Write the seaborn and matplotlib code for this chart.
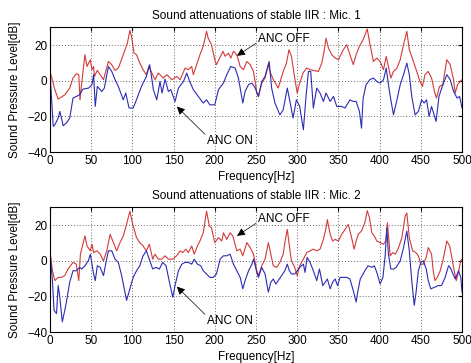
import numpy as np
import pandas as pd
import seaborn as sns
import matplotlib
matplotlib.use("Agg")
import matplotlib.pyplot as plt

# Mic. 1 - ANC OFF (red)
f1_off = [0, 6, 10, 18, 24, 28, 32, 35, 36.5, 38,
          42.5, 45, 49, 51, 53, 54, 57.5, 61, 65, 71,
          75, 79, 83, 89, 94, 97, 99, 102, 105, 109,
          113, 117, 120, 127.5, 131.5, 137.6, 141.7, 147.8, 153.8, 158,
          164, 168, 172, 174, 178, 182, 186, 190, 192, 196,
          200, 202, 206, 210, 212.5, 216.6, 219.4, 222.7, 226.7, 230.8,
          234.8, 238.9, 243, 247, 251, 253, 257, 261, 265, 267,
          271, 277, 283, 287, 290, 293, 297, 300, 303, 307,
          311.5, 315.6, 319.6, 325.7, 329.8, 332.6, 335, 337.9, 342, 346,
          350, 356, 360, 364, 368, 371.5, 375.5, 380, 383, 385,
          388, 392.5, 396.6, 400.6, 404.7, 408, 410.7, 413.6, 416.8, 421,
          425, 429, 433, 436, 441, 445, 449, 452, 455, 459,
          463, 467, 469, 472.6, 476.7, 481.5, 485.6, 489.7, 491.7, 494.5,
          497.8, 500]
db1_off = [5.6, -5.0, -10.3, -7.9, -4.1, 1.5, 3.9, 3.4, -10.7, -3.6,
           14.6, 8.0, 11.8, 6.2, 8.0, 2.4, 5.8, 3.4, 0.6, 10.8,
           9.0, 5.8, 7.1, 14.6, 21.1, 28.2, 24.9, 15.5, 14.6, 9.9,
           6.2, 3.4, 8.0, 0.6, 4.3, 1.5, 3.4, 0.6, 2.4, 0.6,
           7.1, 6.2, 8.0, 3.4, 9.0, 14.6, 19.3, 27.7, 23.9, 20.2,
           11.8, 9.0, 12.7, 16.5, 13.7, 15.5, 12.7, 16.5, 14.6, 8.0,
           6.2, 10.8, 9.0, 5.2, -6.9, -8.8, -1.3, 1.5, 9.0, 5.2,
           0.6, -4.1, 5.2, 9.9, 17.4, 13.7, 1.5, -6.9, -1.3, 4.3,
           7.1, 6.2, 5.8, 5.2, 9.9, 16.5, 23.9, 18.3, 14.6, 12.7,
           11.8, 17.4, 20.2, 14.6, 9.0, 14.6, 19.3, 23.0, 26.7, 29.0,
           21.1, 10.8, 12.7, 10.8, 6.2, 13.7, 8.0, 1.5, 5.2, 7.1,
           11.8, 20.2, 27.7, 17.4, 10.8, 5.2, -0.4, -3.2, 3.4, 5.2,
           1.5, -6.9, -9.7, -3.2, -2.2, 11.8, 9.0, 0.6, -6.9, -2.2,
           -0.4, 0.6]

# Mic. 1 - ANC ON (blue)
f1_on = [0, 4, 6, 10, 12, 14, 16, 20, 24, 28,
         32, 36, 40, 47, 51, 53, 55, 57.5, 63, 66,
         71, 75, 79, 83, 89, 92, 96, 101, 105, 111,
         117, 121, 123.5, 125.5, 129.6, 133.6, 136, 139.7, 143.7, 146.6,
         151.8, 155.9, 162, 166, 170, 174, 180, 186, 190, 194,
         200, 204.5, 210.5, 214.6, 219.4, 224.7, 228.7, 230.8, 234, 236.8,
         240.9, 245, 249, 253, 257, 261, 266, 269, 273, 279,
         283, 288, 290, 295, 299, 303, 307.5, 310.7, 313.6, 316.4,
         319.6, 323.7, 327.7, 331.8, 335, 340, 344, 348, 354, 358,
         364, 368, 371.5, 375.5, 378, 380, 383.6, 388, 392.5, 396.6,
         400.6, 404.7, 408, 410.7, 413.6, 416.8, 421, 425, 429, 433,
         436, 439, 443, 447, 451, 454, 457, 460, 463, 466,
         468.5, 472, 476, 481.5, 485.6, 489.7, 494, 497, 500]
db1_on = [5.2, -25.6, -24.7, -20.9, -17.2, -20.9, -25.2, -23.7, -20.9, -9.7,
          -8.8, -7.9, -4.7, -4.1, -2.2, 3.4, -14.4, -3.2, -6.0, -4.1,
          8.0, 5.2, 0.6, -3.2, -10.7, -6.9, -15.3, -15.3, -10.7, -3.2,
          2.4, 9.0, 1.5, -5.0, -10.7, -0.4, -6.9, 0.9, -6.0, -5.0,
          -11.6, -4.1, -0.4, 4.3, -0.9, -5.0, -8.8, -12.5, -10.7, -13.5,
          -13.5, -5.0, -1.3, 3.4, 8.0, 7.1, 1.5, -4.1, -12.5, -6.0,
          -2.2, -1.3, -4.1, -8.8, -0.4, 2.4, 10.8, -4.1, -12.5, -19.1,
          -16.3, -4.1, -8.8, -20.9, -10.7, -14.4, -27.5, -8.8, 5.2, 5.2,
          -15.3, -4.1, -6.9, -11.6, -6.9, -11.6, -8.8, -14.4, -14.4, -15.3,
          -10.7, -11.6, -11.6, -17.2, -26.6, -9.7, -2.2, 0.6, 1.5, -0.4,
          -1.3, 0.6, 7.1, -2.2, -10.7, -19.1, -10.7, -2.2, 3.4, 9.9,
          3.4, -8.8, -19.1, -17.2, -10.7, -12.5, -10.7, -20.0, -14.4, -19.1,
          -22.8, -8.8, -3.2, 3.4, 0.6, -6.0, -9.7, -8.8, -15.3]

# Mic. 2 - ANC OFF (red)
f2_off = [0, 3, 6, 10, 14, 18, 22, 28, 32, 35,
          37, 42.5, 45, 49, 51, 53, 57, 61, 65, 69,
          73, 77, 81, 85, 89, 93, 97, 100, 105, 109,
          113, 117, 120.6, 124.7, 127.5, 131.6, 135.6, 139.7, 143.7, 149,
          153.8, 158, 161, 165, 168, 172, 175, 179, 182, 186,
          190, 193.5, 196, 200, 204.5, 208.5, 210.5, 214.6, 218.6, 221.9,
          226.7, 230.8, 234, 238.9, 243, 247, 251, 253, 257, 261,
          265, 268, 271, 275, 279, 283, 285, 288, 290.5, 293,
          297, 300, 303, 307.5, 311.5, 315.6, 319.6, 323.7, 327.7, 331.8,
          335, 336.6, 340, 343, 346, 350, 354, 358, 362, 366,
          369, 371.5, 374, 378, 382, 385, 387.7, 390.5, 393.5, 396.6,
          400.6, 404.7, 407.5, 409.5, 411, 412.8, 416, 419, 423, 427,
          431, 433, 436, 440, 444, 447, 450, 453, 456.5, 459,
          463, 465, 467, 470, 473.5, 476.7, 481.5, 485, 487.6, 490.5,
          493, 496, 498.5, 500]
db2_off = [5.6, -5.6, -11.1, -9.3, -9.3, -8.3, -4.6, -0.9, -1.9, -11.1,
           3.7, 13.9, 8.3, 5.6, 9.3, 4.6, 5.6, 3.7, 0.0, 5.6,
           14.8, 10.2, 5.6, 10.2, 13.9, 20.4, 27.8, 21.3, 13.0, 10.2,
           8.3, 5.6, 9.3, 0.9, 3.7, 0.9, 0.9, 2.8, 0.9, 0.9,
           2.8, 5.6, 4.6, 6.5, 4.6, 8.3, 3.7, 8.3, 11.1, 15.7,
           27.8, 19.4, 18.5, 10.2, 13.0, 11.1, 15.7, 12.0, 15.7, 13.9,
           5.6, 6.5, 2.8, 10.2, 7.4, 3.7, -5.6, -8.3, -2.8, 0.9,
           10.2, 3.7, -2.8, -3.7, -0.9, 3.7, 10.2, 17.6, 8.3, 0.0,
           -3.7, -8.3, -2.8, 0.9, 4.6, 5.6, 6.5, 5.6, 6.5, 12.0,
           18.5, 23.1, 14.8, 11.1, 12.0, 11.1, 14.8, 17.6, 20.4, 13.0,
           6.5, 11.1, 14.8, 16.7, 21.3, 28.1, 24.1, 15.7, 13.9, 11.1,
           10.2, 9.3, 11.1, 21.3, 13.0, 2.8, 4.6, 3.7, 7.4, 13.0,
           25.0, 26.8, 13.0, 5.6, 4.6, 2.8, -1.9, -1.9, 1.9, 7.4,
           3.7, -5.6, -11.1, -9.3, -5.6, 0.0, 11.1, 8.3, 1.9, -5.6,
           -11.1, -5.6, 0.0, 0.9]

# Mic. 2 - ANC ON (blue)
f2_on = [0, 3, 5, 8, 10, 12, 15, 18, 20, 24,
         28, 32, 36, 38.5, 42.5, 46.6, 49, 53, 55, 57.5,
         61, 65, 68, 71, 75, 79, 83, 87, 93, 97,
         101, 105, 109, 113, 117, 120.6, 124.7, 128.7, 132.8, 136.8,
         140.9, 145, 149, 151.8, 155.9, 160, 164, 168, 172, 175,
         179, 183, 186, 190, 194, 198, 202, 206.5, 210.5, 214.6,
         218.6, 222.7, 226.7, 230.8, 234, 236.8, 241, 245, 247, 251,
         253, 257, 261, 265, 268, 271, 274, 277, 281, 285,
         288, 290.5, 293, 297, 300, 303, 307.5, 309.5, 312, 315.6,
         319.6, 323.7, 327, 331, 334, 336.6, 340, 343, 346, 349,
         352, 356, 360, 364, 368, 371.5, 373, 376.5, 380, 382,
         386, 390.5, 393.5, 396.6, 400.6, 404, 406.7, 408.7, 410.7, 413.6,
         417, 420, 425, 429, 433, 436, 439, 442, 444, 447,
         450, 453, 456.5, 459, 462, 467, 471, 475, 479.5, 483.6,
         485.6, 489, 491.7, 495.7, 498.5, 500]
db2_on = [5.6, -11.1, -27.8, -29.6, -13.9, -20.4, -34.2, -27.8, -23.1, -12.0,
          -5.6, -5.6, -3.7, -4.6, -2.8, 0.0, 3.7, -7.4, -11.1, -2.8,
          -3.7, -8.3, -0.9, 5.6, 5.6, 0.9, -0.9, -8.3, -22.2, -15.7,
          -9.3, -5.6, -2.8, 2.8, 5.6, 0.9, -4.6, -3.7, -4.6, -0.9,
          -2.8, -12.0, -20.4, -13.9, -5.6, -1.9, -0.9, -0.9, -1.9, 0.9,
          -1.9, -2.8, -5.6, -7.4, -9.3, -9.3, -7.4, 0.9, 2.8, 2.8,
          3.7, -1.9, -5.6, -9.3, -15.7, -11.1, -5.6, -1.9, 0.9, -6.5,
          -9.3, -3.7, -7.4, -17.6, -12.0, -10.2, -13.0, -11.1, -8.3, -5.6,
          -1.9, -5.6, -7.4, -7.4, -5.6, -3.7, -1.9, -6.5, 1.9, -0.9,
          -5.6, -11.1, -4.6, -13.9, -12.0, -10.2, -15.7, -12.0, -10.2, -13.9,
          -9.3, -9.3, -9.3, -10.2, -16.7, -23.1, -18.5, -10.2, -7.4, -5.6,
          -2.8, -3.7, -2.8, -6.5, -13.0, -9.3, 2.8, 18.5, 3.7, -4.6,
          -4.6, -3.7, 0.0, 7.4, 16.7, 5.6, -11.1, -25.0, -18.5, -5.6,
          -0.9, 0.0, -4.6, -11.1, -15.7, -14.8, -13.9, -13.9, -9.3, -2.8,
          -3.7, -7.4, -10.2, -5.6, -9.3, -17.6]

titles = ["Sound attenuations of stable IIR : Mic. 1",
          "Sound attenuations of stable IIR : Mic. 2"]
xticks = list(range(0, 501, 50))
yticks = [-40, -20, 0, 20]

sns.set_style("white")
plt.rcParams["font.family"] = ["Liberation Sans", "DejaVu Sans"]
plt.rcParams["font.size"] = 8.5
for key in ["text.color", "axes.labelcolor", "xtick.color", "ytick.color"]:
    plt.rcParams[key] = "black"

fig = plt.figure(figsize=(4.71, 3.63), dpi=100)
ax1 = fig.add_axes([0.106, 0.581, 0.875, 0.344])
ax2 = fig.add_axes([0.106, 0.085, 0.875, 0.344])

panels = [(ax1, f1_off, db1_off, f1_on, db1_on, titles[0]),
          (ax2, f2_off, db2_off, f2_on, db2_on, titles[1])]

for ax, fo, do, fn, dn, ttl in panels:
    sns.lineplot(x=fo, y=do, ax=ax, color="#d23a3a", lw=0.8)
    sns.lineplot(x=fn, y=dn, ax=ax, color="#2c2cb4", lw=0.8)
    ax.set_xlim(0, 500)
    ax.set_ylim(-40, 30)
    ax.set_xticks(xticks)
    ax.set_yticks(yticks)
    ax.grid(True, color="#333333", linestyle=(0, (1, 2.5)), lw=0.6)
    ax.tick_params(direction="in", length=3, labelsize=8.5, pad=2,
                   top=True, right=True, colors="black")
    for s in ax.spines.values():
        s.set_color("black")
        s.set_linewidth(0.8)
    ax.set_title(ttl, fontsize=8.5, pad=6, color="black")
    ax.set_xlabel("Frequency[Hz]", fontsize=8.5, labelpad=3)
    ax.set_ylabel("Sound Pressure Level[dB]", fontsize=8.5, labelpad=4)

    arr = dict(arrowstyle="-|>", color="black", lw=0.5,
               mutation_scale=12, shrinkA=0, shrinkB=0)
    ax.annotate("", xy=(227, 14), xytext=(250, 21), arrowprops=arr)
    ax.text(253, 23.5, "ANC OFF", fontsize=8.5, ha="left", va="center")
    ax.annotate("", xy=(154, -14.5), xytext=(188, -30), arrowprops=arr)
    ax.text(190, -34, "ANC ON", fontsize=8.5, ha="left", va="center")

fig.savefig("out.png", dpi=100)
